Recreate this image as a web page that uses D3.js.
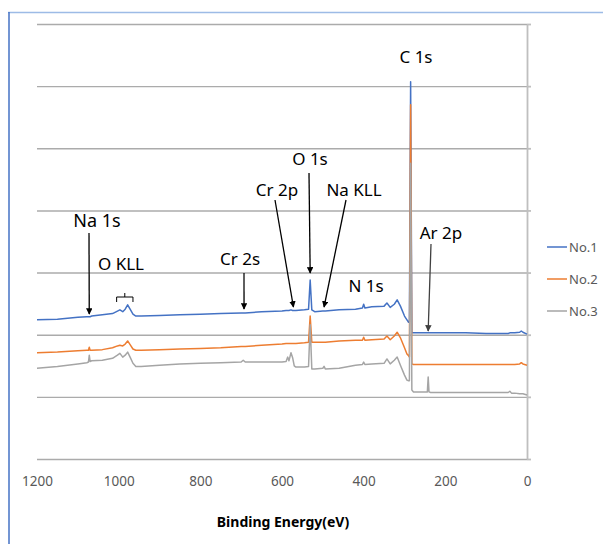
<!DOCTYPE html>
<html>
<head>
<meta charset="utf-8">
<script src="https://cdn.jsdelivr.net/npm/d3@7"></script>
<style>
  body { margin: 0; background: #fff; }
  svg { display: block; font-family: "Noto Sans", "DejaVu Sans", sans-serif; }
</style>
</head>
<body>
<div id="chart"></div>
<script>
// Binding energy grid (eV), shared by all three spectra
var energy = [1200, 1150, 1100, 1078, 1074, 1072, 1070, 1066, 1040, 1015,
  1003, 997, 990, 984, 978, 972, 965, 958, 945, 900,
  850, 800, 750, 700, 695, 690, 650, 600, 590, 586,
  583, 578, 574, 570, 566, 545, 535, 531, 527, 520,
  500, 497, 494, 460, 420, 403, 400, 397, 380, 350,
  343, 335, 325, 318, 310, 300, 294, 290, 288, 285,
  282, 278, 250, 244, 242, 240, 236, 150, 100, 50,
  46, 42, 38, 30, 18, 14, 10, 0];

// Intensities (arbitrary units, spectra already offset)
var no1 = [22.4, 22.5, 22.8, 22.9, 22.9, 22.9, 22.9, 23.0, 23.2, 23.4,
  23.8, 24.0, 23.7, 24.1, 24.8, 24.1, 23.3, 23.0, 23.0, 23.1,
  23.2, 23.3, 23.4, 23.5, 23.5, 23.5, 23.7, 23.8, 23.9, 23.9,
  23.9, 24.0, 23.9, 23.9, 23.9, 24.0, 24.1, 28.8, 24.0, 23.7,
  23.8, 23.8, 23.8, 24.0, 24.1, 24.3, 24.9, 24.3, 24.5, 24.6,
  25.1, 24.4, 24.9, 25.6, 24.6, 23.0, 22.4, 22.0, 22.0, 60.7,
  20.3, 20.3, 20.3, 20.3, 20.3, 20.3, 20.3, 20.3, 20.2, 20.2,
  20.2, 20.3, 20.3, 20.3, 20.4, 20.6, 20.4, 20.1];

var no2 = [17.1, 17.2, 17.4, 17.5, 17.5, 18.0, 17.5, 17.5, 17.6, 17.9,
  18.2, 18.3, 18.2, 18.5, 19.0, 18.4, 17.7, 17.5, 17.5, 17.6,
  17.7, 17.8, 17.9, 18.1, 18.1, 18.1, 18.3, 18.5, 18.6, 18.6,
  18.6, 18.6, 18.6, 18.6, 18.6, 18.7, 18.8, 23.0, 18.8, 18.8,
  18.8, 18.8, 18.8, 19.0, 19.1, 19.1, 19.6, 19.1, 19.2, 19.3,
  19.8, 19.2, 19.8, 20.4, 19.5, 17.9, 16.9, 16.6, 16.4, 57.0,
  15.3, 15.2, 15.2, 15.2, 15.2, 15.2, 15.2, 15.2, 15.2, 15.2,
  15.2, 15.2, 15.2, 15.2, 15.3, 15.5, 15.3, 15.1];

var no3 = [14.6, 14.9, 15.3, 15.5, 15.6, 16.7, 15.7, 15.8, 15.9, 16.2,
  16.7, 17.0, 16.4, 16.7, 17.2, 16.4, 15.4, 14.9, 14.9, 15.1,
  15.3, 15.4, 15.5, 15.6, 15.9, 15.6, 15.6, 15.6, 15.7, 16.4,
  15.8, 17.1, 16.3, 15.0, 14.8, 14.8, 14.9, 21.6, 14.5, 14.5,
  14.6, 14.9, 14.5, 14.6, 15.1, 15.2, 15.6, 15.2, 15.3, 15.4,
  16.1, 15.3, 15.9, 16.4, 15.1, 13.5, 12.7, 12.6, 12.6, 47.6,
  11.1, 10.8, 10.8, 10.8, 13.2, 10.8, 10.7, 10.7, 10.7, 10.7,
  10.7, 10.9, 10.6, 10.6, 10.5, 10.5, 10.5, 10.3];

var seriesNames = ["No.1", "No.2", "No.3"];
var seriesColors = ["#4472c4", "#ed7d31", "#a5a5a5"];
var xTicks = [1200, 1000, 800, 600, 400, 200, 0];
var yTicks = [0, 10, 20, 30, 40, 50, 60, 70];

// Peak labels
var peakLabels = ["C 1s", "O 1s", "Cr 2p", "Na KLL", "Na 1s", "O KLL", "Cr 2s", "N 1s", "Ar 2p"];

var svgWidth = 603;
var svgHeight = 544;
var margin = {top: 24, right: 76, bottom: 85, left: 37};
var chartWidth = svgWidth - margin.left - margin.right;
var chartHeight = svgHeight - margin.top - margin.bottom;

var svg = d3.select("#chart")
  .append("svg")
  .attr("width", svgWidth)
  .attr("height", svgHeight);

// outer frame (left and top edges)
svg.append("line").attr("x1", 8).attr("x2", svgWidth).attr("y1", 12.5).attr("y2", 12.5)
  .attr("stroke", "#9dbbe6").attr("stroke-width", 1.5);
svg.append("line").attr("x1", 9).attr("x2", 9).attr("y1", 12).attr("y2", svgHeight)
  .attr("stroke", "#4472c4").attr("stroke-width", 1.5);

var chartGroup = svg.append("g")
  .attr("transform", `translate(${margin.left}, ${margin.top})`);

var x = d3.scaleLinear().domain([1200, 0]).range([0, chartWidth]);
var y = d3.scaleLinear().domain([0, 70]).range([chartHeight, 0]);

// horizontal gridlines
var grid = chartGroup.append("g")
  .call(d3.axisLeft(y).tickValues(yTicks).tickSize(-chartWidth).tickFormat(""));
grid.select(".domain").remove();
grid.selectAll("line").attr("stroke", "#ababab").attr("stroke-width", 1.4);

// value axis sits at 0 eV (right side)
var yAxis = chartGroup.append("g")
  .attr("transform", `translate(${x(0)}, 0)`)
  .call(d3.axisRight(y).tickValues(yTicks).tickSize(4).tickSizeOuter(0).tickFormat(""));
yAxis.selectAll("path, line").attr("stroke", "#bfbfbf").attr("stroke-width", 1.8);

// x axis labels
var xAxis = chartGroup.append("g")
  .attr("transform", `translate(0, ${chartHeight})`)
  .call(d3.axisBottom(x).tickValues(xTicks).tickSize(0).tickPadding(17).tickFormat(d3.format("d")));
xAxis.select(".domain").remove();
xAxis.selectAll("text")
  .attr("fill", "#595959")
  .style("font-size", "13.5px")
  .style("font-family", "'Noto Sans', sans-serif");

svg.append("text")
  .attr("x", 283)
  .attr("y", 527)
  .attr("text-anchor", "middle")
  .style("font-size", "14px")
  .style("font-weight", "bold")
  .attr("fill", "#000")
  .text("Binding Energy(eV)");

// spectra
var allSeries = [no1, no2, no3];
var line = d3.line()
  .x((d, i) => x(energy[i]))
  .y(d => y(d));

allSeries.forEach(function(s, k) {
  chartGroup.append("path")
    .datum(s)
    .attr("fill", "none")
    .attr("stroke", seriesColors[k])
    .attr("stroke-width", 1.5)
    .attr("stroke-linejoin", "round")
    .attr("d", line);
});

// legend
seriesNames.forEach(function(name, k) {
  var ly = 247 + k * 32;
  svg.append("line")
    .attr("x1", 547).attr("x2", 567).attr("y1", ly).attr("y2", ly)
    .attr("stroke", seriesColors[k]).attr("stroke-width", 1.5);
  svg.append("text")
    .attr("x", 569).attr("y", ly + 5)
    .style("font-size", "13px")
    .attr("fill", "#595959")
    .text(name);
});

// annotations
var defs = svg.append("defs");
["#000", "#404040"].forEach(function(c, k) {
  defs.append("marker")
    .attr("id", "arrow" + k)
    .attr("viewBox", "0 0 10 10")
    .attr("refX", 9).attr("refY", 5)
    .attr("markerWidth", 5).attr("markerHeight", 5)
    .attr("orient", "auto")
    .append("path")
    .attr("d", "M0,0 L10,5 L0,10 Z")
    .attr("fill", c);
});

// label text positions (pixels)
var labelPos = [
  {x: 416, y: 63, size: 17},
  {x: 310, y: 165, size: 17},
  {x: 277, y: 196, size: 17},
  {x: 354, y: 196, size: 17},
  {x: 97, y: 227, size: 18},
  {x: 121, y: 270, size: 17},
  {x: 240, y: 265, size: 17},
  {x: 366, y: 292, size: 17},
  {x: 441, y: 239, size: 17}
];
peakLabels.forEach(function(t, i) {
  svg.append("text")
    .attr("x", labelPos[i].x)
    .attr("y", labelPos[i].y)
    .attr("text-anchor", "middle")
    .style("font-size", labelPos[i].size + "px")
    .attr("fill", "#000")
    .text(t);
});

// arrows: [start x, start y, energy, tip y, colour index]
var arrows = [
  [309, 173, 531, 273, 0],
  [275, 200, 572, 307, 0],
  [346, 200, 497, 307, 0],
  [89, 233, 1072, 314, 0],
  [244, 273, 693, 309, 0],
  [431, 244, 242, 331, 1]
];
arrows.forEach(function(a) {
  var tx = margin.left + x(a[2]);
  svg.append("line")
    .attr("x1", a[0]).attr("y1", a[1])
    .attr("x2", tx).attr("y2", a[3])
    .attr("stroke", a[4] ? "#404040" : "#000")
    .attr("stroke-width", 1.3)
    .attr("marker-end", `url(#arrow${a[4]})`);
});

// bracket over the O KLL doublet
var bx0 = margin.left + x(1005), bx1 = margin.left + x(965), bxm = margin.left + x(985);
svg.append("path")
  .attr("d", `M${bx0},302 V297 H${bx1} V302 M${bxm},297 V293`)
  .attr("fill", "none")
  .attr("stroke", "#000")
  .attr("stroke-width", 1);
</script>
</body>
</html>
